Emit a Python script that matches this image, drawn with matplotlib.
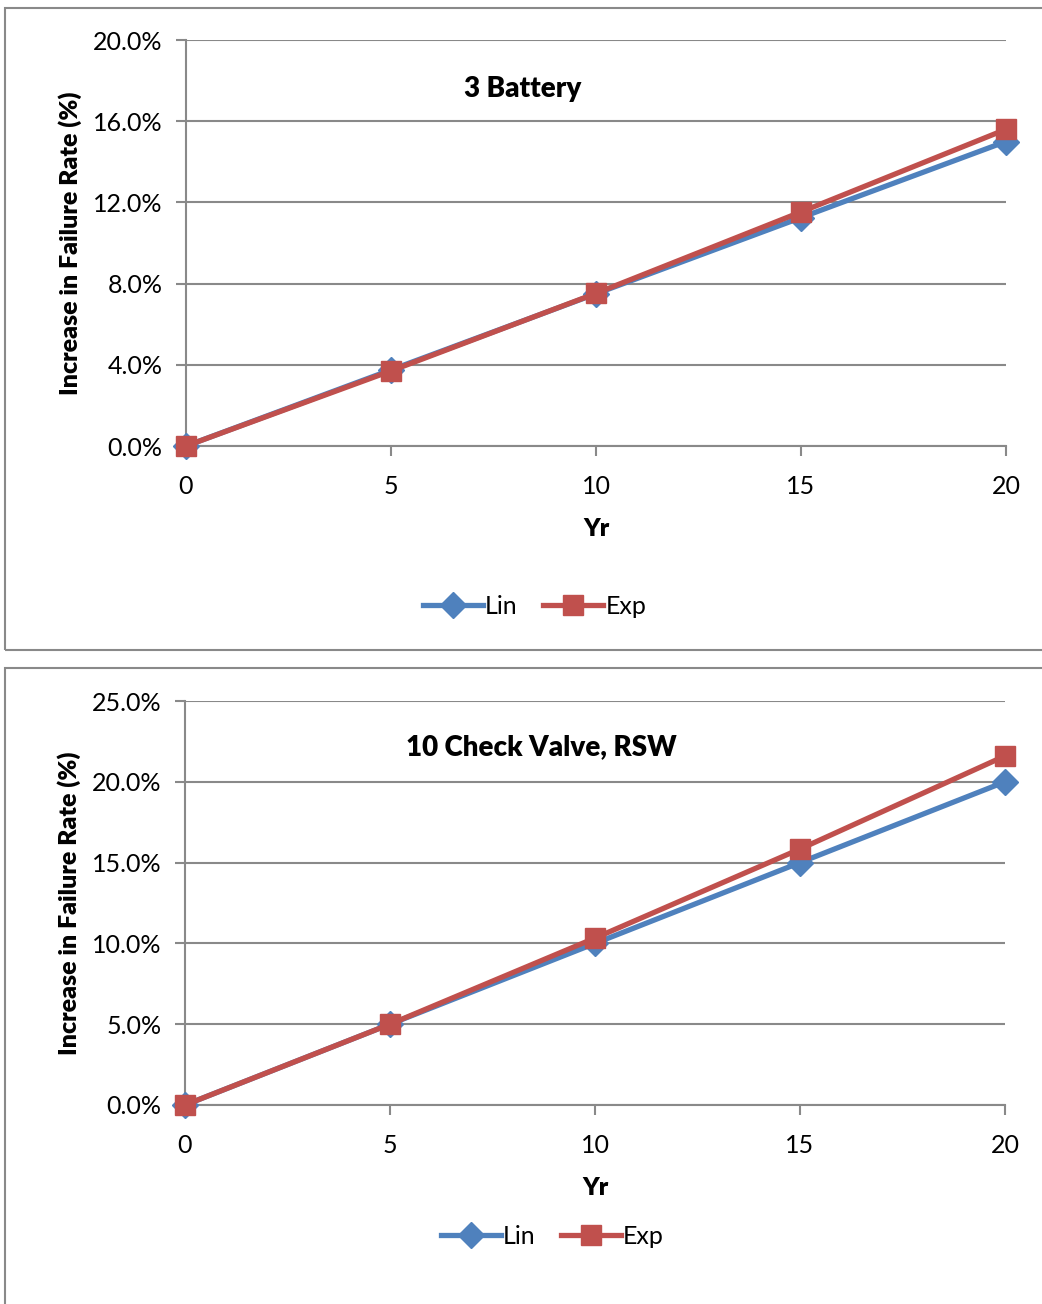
import matplotlib.pyplot as plt
from matplotlib.patches import Rectangle
from matplotlib.ticker import FuncFormatter

plt.rcParams['font.family'] = ['Lato', 'DejaVu Sans']

# data (fractions)
years = [0, 5, 10, 15, 20]
lin_battery = [0.0, 0.0375, 0.075, 0.1125, 0.150]
exp_battery = [0.0, 0.0370, 0.0752, 0.1153, 0.1560]
lin_valve = [0.0, 0.050, 0.100, 0.150, 0.200]
exp_valve = [0.0, 0.0500, 0.1033, 0.1584, 0.2160]

BLUE = '#4F81BD'
RED = '#C0504D'
GRAY = '#898989'

fig = plt.figure(figsize=(10.42, 13.04), dpi=100)

# panel frames
fig.patches.append(Rectangle((5/1042, 1-650/1304), 1.1, 642/1304, transform=fig.transFigure,
                             fill=False, edgecolor=GRAY, linewidth=1.5))
fig.patches.append(Rectangle((5/1042, -0.1), 1.1, 0.1+(1-668/1304), transform=fig.transFigure,
                             fill=False, edgecolor=GRAY, linewidth=1.5))


def panel(rect, lin, exp, ymax, ystep, title, title_y, leg_y):
    ax = fig.add_axes(rect)
    ax.plot(years, lin, color=BLUE, lw=3.8, marker='D', ms=13, label='Lin', zorder=3)
    ax.plot(years, exp, color=RED, lw=3.8, marker='s', ms=14, label='Exp', zorder=4)
    ax.set_xlim(0, 20)
    ax.set_ylim(0, ymax)
    ax.set_xticks(years)
    ax.set_yticks([i * ystep for i in range(int(round(ymax / ystep)) + 1)])
    ax.yaxis.set_major_formatter(FuncFormatter(lambda v, p: '%.1f%%' % (v * 100)))
    ax.grid(axis='y', color=GRAY, lw=1.5)
    ax.set_axisbelow(True)
    for s in ['top', 'right']:
        ax.spines[s].set_visible(False)
    for s in ['left', 'bottom']:
        ax.spines[s].set_color(GRAY)
        ax.spines[s].set_linewidth(1.5)
    ax.tick_params(colors=GRAY, labelcolor='black', labelsize=18, width=1.5, length=7)
    ax.tick_params(axis='x', pad=14)
    ax.tick_params(axis='y', pad=10)
    ax.set_xlabel('Yr', fontsize=18, fontweight='heavy', labelpad=14)
    ax.set_ylabel('Increase in Failure Rate (%)', fontsize=18, fontweight='heavy', labelpad=8)
    ax.text(title_y[0], title_y[1], title, transform=ax.transAxes, ha='center', va='center',
            fontsize=20, fontweight='heavy')
    for ln in ax.lines:
        ln.set_clip_on(False)
    ax.legend(loc='center', bbox_to_anchor=leg_y, ncol=2, frameon=False, fontsize=18,
              handlelength=2.4, handletextpad=0.1, columnspacing=1.0)
    return ax


panel([186/1042, 1-446/1304, 820/1042, 406/1304], lin_battery, exp_battery, 0.20, 0.04,
      '3 Battery', (0.41, 0.88), (0.425, -0.395))
panel([185/1042, 1-1105/1304, 820/1042, 404/1304], lin_valve, exp_valve, 0.25, 0.05,
      '10 Check Valve, RSW', (0.435, 0.885), (0.448, -0.325))

fig.savefig('out.png', dpi=100)
